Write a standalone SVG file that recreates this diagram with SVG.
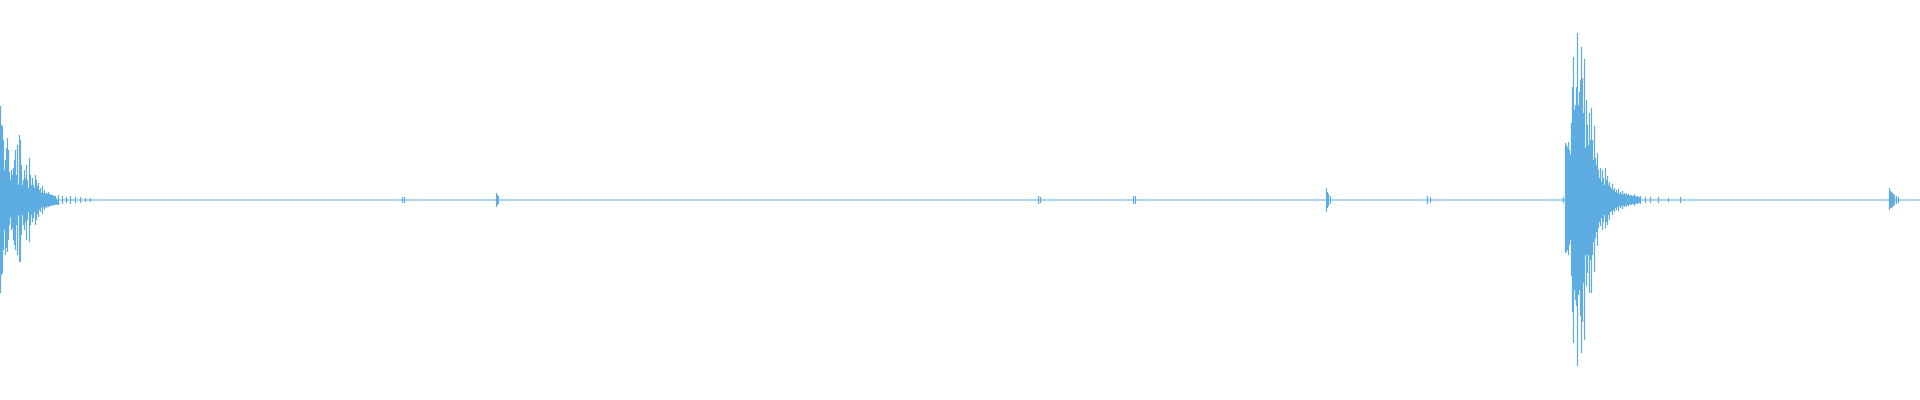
<svg xmlns="http://www.w3.org/2000/svg" width="1920" height="400" viewBox="0 0 1920 400">
<style>.w{fill:none;stroke:#5dade2;stroke-width:1.2}</style>
<rect width="1920" height="400" fill="#fff"/>
<path class="w" stroke-width="1.6" d="M0 200H1920"/>
<path fill="#5dade2" d="M0 180L20 185L40 192L55 196L60 204L40 208L20 215L0 220Z M1565 170L1580 160L1600 185L1620 194L1640 197L1640 203L1620 206L1600 215L1580 240L1565 230Z"/>
<path class="w" d="M0.5 106V293M1.5 125V275M2.5 126V273M3.5 140V250M4.5 170V230M5.5 160V255M6.5 148V248M7.5 138V252M8.5 150V240M9.5 172V225M10.5 180V215M11.5 170V230M12.5 175V228M13.5 168V240M14.5 160V245M15.5 150V250M16.5 175V225M17.5 145V255M18.5 190V210M19.5 135V262M20.5 140V262M21.5 165V235M22.5 185V215M23.5 180V225M24.5 170V230M25.5 178V222M26.5 165V240M27.5 180V220M28.5 190V210M29.5 158V242M30.5 175V225M31.5 185V215M32.5 178V222M33.5 185V218M34.5 188V212M35.5 175V225M36.5 180V220M37.5 186V214M38.5 183V217M39.5 190V210M40.5 188V212M42.5 186V214M44.5 190V210M46.5 193V208M48.5 192V207M50.5 194V206M52.5 195V205M55.5 196V204M58.5 195V205M62.5 196V204M66.5 197V203M70.5 196V204M75.5 197V203M80.5 197V203M85.5 198V202M90.5 198V202
M402.5 197V203M404.5 197V203M496.5 193V207M497.5 195V205M498.5 196V204M1038.5 196V204M1040.5 197V203M1133.5 196V204M1135.5 196V204M1326.5 188V212M1327.5 192V208M1328.5 194V206M1330.5 196V204M1427.5 196V204M1430.5 197V203
M1563.5 197V203M1565.5 143V253M1566.5 145V252M1567.5 147V250M1568.5 142V255M1569.5 150V245M1570.5 155V240M1571.5 123V276M1572.5 87V312M1573.5 57V343M1574.5 110V290M1575.5 105V300M1576.5 87V306M1577.5 33V366M1578.5 105V295M1579.5 92V290M1580.5 80V316M1581.5 47V353M1582.5 78V322M1583.5 113V283M1584.5 59V340M1585.5 148V255M1586.5 100V286M1587.5 125V273M1588.5 145V255M1589.5 113V293M1590.5 140V260M1591.5 108V293M1592.5 140V255M1593.5 160V242M1594.5 126V272M1595.5 158V238M1596.5 165V232M1597.5 153V246M1598.5 170V228M1599.5 178V222M1600.5 168V226M1601.5 182V218M1602.5 170V230M1603.5 178V222M1604.5 185V215M1605.5 168V228M1606.5 180V222M1607.5 176V225M1608.5 185V215M1609.5 182V220M1610.5 187V212M1611.5 189V211M1612.5 184V215M1613.5 190V210M1614.5 188V212M1616.5 190V210M1618.5 189V211M1620.5 192V208M1622.5 191V209M1624.5 193V207M1626.5 193V207M1628.5 194V206M1631.5 195V205M1634.5 194V206M1637.5 196V204M1640.5 196V204M1645.5 197V203M1650.5 197V203M1658.5 197V203M1668.5 198V202M1680.5 197V203
M1889.5 188V210M1890.5 191V208M1891.5 192V208M1892.5 193V207M1893.5 194V206M1894.5 195V205M1896.5 196V204M1898.5 197V203"/>
</svg>
